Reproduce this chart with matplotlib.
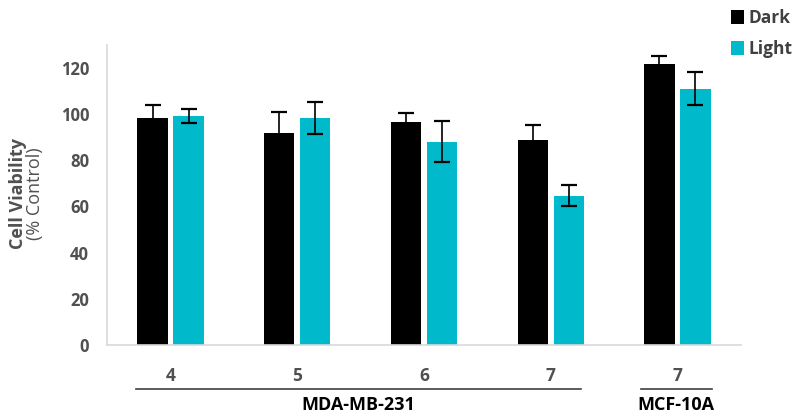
import matplotlib
matplotlib.use('Agg')
import matplotlib.pyplot as plt
import numpy as np

# values
conc = ['4', '5', '6', '7', '7']
dark = [98.4, 92.0, 96.8, 89.0, 121.8]
dark_err = [5.4, 9.0, 3.6, 6.4, 3.4]
light = [99.3, 98.4, 88.0, 64.6, 111.0]
light_err = [3.0, 7.0, 8.9, 4.5, 7.2]
groups = ['MDA-MB-231', 'MCF-10A']
group_span = [(-0.27, 3.24), (3.71, 4.27)]

plt.rcParams['font.family'] = ['Open Sans', 'DejaVu Sans']

fig = plt.figure(figsize=(8, 4.16), dpi=100)
ax = fig.add_axes([0.134, 0.171, 0.792, 0.721])

x = np.arange(len(conc))
w = 0.24
off = 0.022 + w / 2
ekw = dict(ecolor='black', elinewidth=1.2, capsize=5.5, capthick=1.6)
ax.bar(x - off, dark, w, yerr=dark_err, color='black', label='Dark', error_kw=ekw)
ax.bar(x + off, light, w, yerr=light_err, color='#00BACB', label='Light', error_kw=ekw)

ax.set_xlim(-0.5, 4.5)
ax.set_ylim(0, 130)
ax.set_yticks(range(0, 121, 20))
ax.set_xticks(x)
ax.set_xticklabels(conc)
ax.tick_params(length=0)
ax.tick_params(axis='x', pad=16)
ax.tick_params(axis='y', pad=13)
for lab in ax.get_xticklabels():
    lab.set_fontsize(12.5)
    lab.set_fontweight('bold')
    lab.set_color('#505050')
for lab in ax.get_yticklabels():
    lab.set_fontsize(12)
    lab.set_fontweight('bold')
    lab.set_color('#505050')

for s in ['top', 'right']:
    ax.spines[s].set_visible(False)
for s in ['left', 'bottom']:
    ax.spines[s].set_color('#D9D9D9')
    ax.spines[s].set_linewidth(1.2)

# group brackets under the ticks
tr = ax.get_xaxis_transform()
for name, (a, b) in zip(groups, group_span):
    ax.plot([a, b], [-0.147, -0.147], color='#404040', lw=1.2, transform=tr, clip_on=False)
    ax.text((a + b) / 2, -0.2, name, transform=tr, ha='center', va='center',
            fontsize=13, fontweight='bold', color='black')

fig.text(0.022, 0.535, 'Cell Viability', rotation=90, ha='center', va='center',
         fontsize=13, fontweight='bold', color='#505050')
fig.text(0.044, 0.535, '(% Control)', rotation=90, ha='center', va='center',
         fontsize=13, color='#505050')

leg = fig.legend(loc='upper right', bbox_to_anchor=(1.01, 1.015), frameon=False,
                 handlelength=0.75, handleheight=0.85, handletextpad=0.25,
                 labelspacing=0.75, prop={'size': 12.5, 'weight': 'bold'})
for t in leg.get_texts():
    t.set_color('#404040')

fig.savefig('out.png', dpi=100)
